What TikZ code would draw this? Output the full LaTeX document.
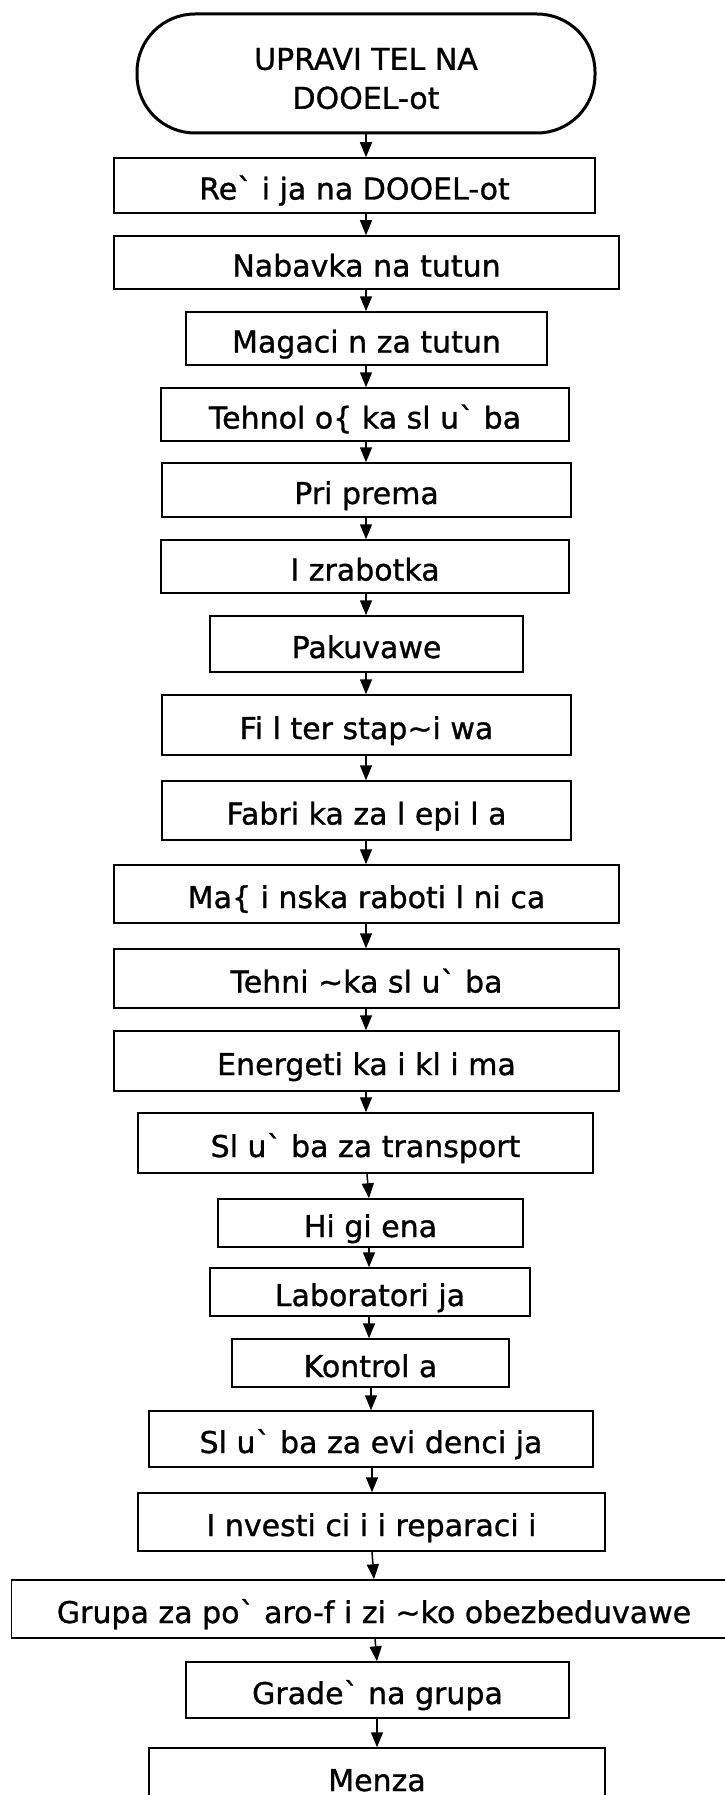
\documentclass[tikz,border=0pt]{standalone}
\usepackage{fontspec}
\newfontfamily\boxfont[FakeBold=1]{DejaVu Sans}
\usepackage{tikz}
\usetikzlibrary{arrows.meta}

\newcommand{\zh}{\textasciigrave}
\newcommand{\sh}{\{}
\newcommand{\ch}{\textasciitilde}

\begin{document}
\begin{tikzpicture}[x=1pt,y=-1pt,>={Triangle[length=15pt,width=12pt]},
  unit/.style={draw,line width=1.5pt,inner sep=0pt,text height=28pt,text depth=0pt,
    font=\boxfont\fontsize{30}{36}\selectfont}]

\useasboundingbox (0,0) rectangle (724,1795);

% head
\node[draw,line width=3pt,rounded corners=58pt,minimum width=458pt,minimum height=119pt,
  inner sep=0pt,align=center,font=\boxfont\fontsize{30}{39}\selectfont] (head) at (366,73.5)
  {\rule{0pt}{32pt}UPRAVI TEL NA\\DOOEL-ot};

% units
\foreach \name/\cx/\cy/\w/\h/\txt in {
  reija/354.5/185.5/481/55/{Re\zh{} i ja na DOOEL-ot},
  nabavka/366.5/262.5/505/53/{Nabavka na tutun},
  magacin/366.5/338.5/361/53/{Magaci n za tutun},
  tehnol/365/414.5/408/53/{Tehnol o\sh{} ka sl u\zh{} ba},
  priprema/366.5/490/409/54/{Pri prema},
  izrabotka/365/566.5/408/53/{I zrabotka},
  pakuvawe/366.5/644/313/56/{Pakuvawe},
  filter/366.5/725/409/60/{Fi l ter stap\ch{}i wa},
  fabrika/366.5/810.5/409/59/{Fabri ka za l epi l a},
  masinska/366.5/894/505/58/{Ma\sh{} i nska raboti l ni ca},
  tehnicka/366.5/978.5/505/59/{Tehni \ch{}ka sl u\zh{} ba},
  energija/366.5/1061/505/60/{Energeti ka i kl i ma},
  transport/365.5/1143/455/60/{Sl u\zh{} ba za transport},
  higiena/370.5/1223/305/48/{Hi gi ena},
  lab/370/1292/320/48/{Laboratori ja},
  kontrola/370.5/1363/277/48/{Kontrol a},
  evidencija/371/1439/444/56/{Sl u\zh{} ba za evi denci ja},
  investicii/371.5/1522/467/58/{I nvesti ci i i reparaci i},
  grupa/374/1609/725/58/{Grupa za po\zh{} aro-f i zi \ch{}ko obezbeduvawe},
  gradezna/377.5/1690/383/56/{Grade\zh{} na grupa},
  menza/377/1777/456/58/{Menza}}
  \node[unit,minimum width=\w pt,minimum height=\h pt] (\name) at (\cx,\cy) {\txt};

% arrows
\foreach \a/\b/\xa/\xb in {head/reija/366/366, reija/nabavka/366/366, nabavka/magacin/366/366,
  magacin/tehnol/366/366, tehnol/priprema/366/366, priprema/izrabotka/366/366,
  izrabotka/pakuvawe/366/366, pakuvawe/filter/366/366, filter/fabrika/366/366,
  fabrika/masinska/366/366, masinska/tehnicka/366/366, tehnicka/energija/366/366,
  energija/transport/366/366, transport/higiena/367/369, higiena/lab/369/369,
  lab/kontrola/369/369, kontrola/evidencija/371/371, evidencija/investicii/372/372,
  investicii/grupa/372/374, grupa/gradezna/375/377, gradezna/menza/377/377}
  \draw[->,line width=1.5pt] (\a.south -| \xa,0) -- (\b.north -| \xb,0);

\end{tikzpicture}
\end{document}
